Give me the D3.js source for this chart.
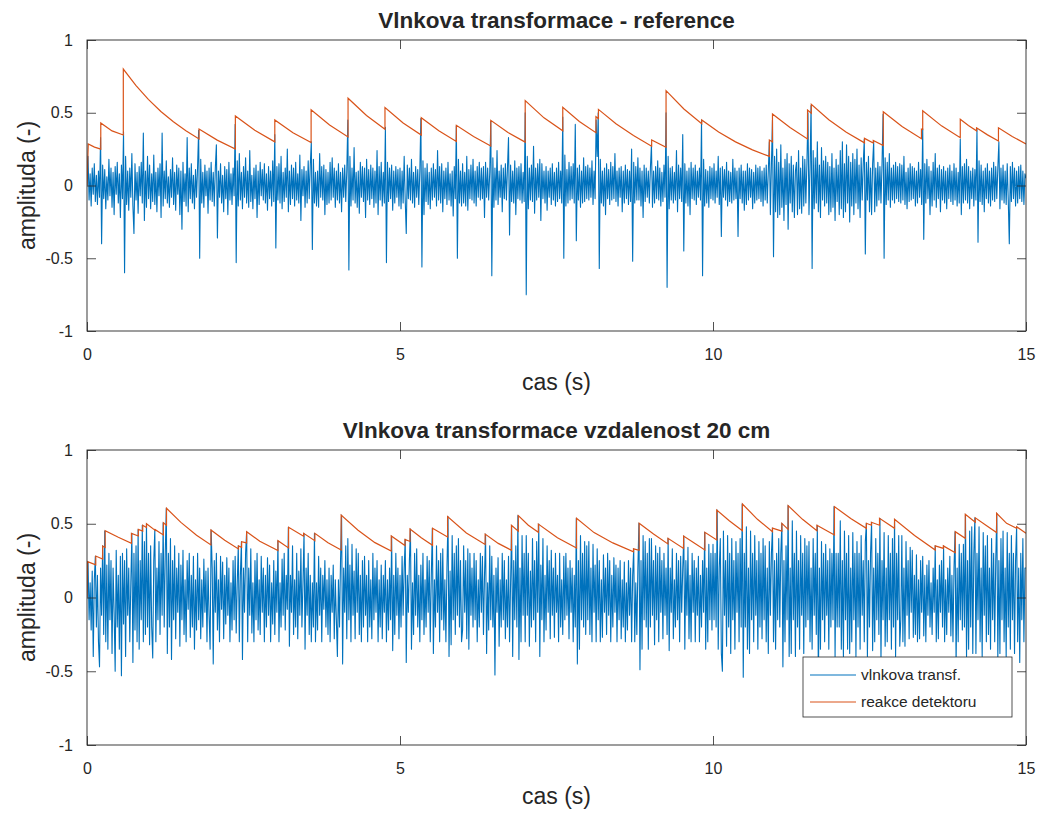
<!DOCTYPE html>
<html><head><meta charset="utf-8">
<script src="https://cdn.jsdelivr.net/npm/d3@7"></script>
<style>
body{margin:0;background:#fff}
svg{display:block}
text{font-family:"Liberation Sans",Arial,Helvetica,sans-serif;fill:#262626}
</style>
</head><body>
<svg id="c" width="1041" height="814"></svg>
<script>
const xTicks=[0,5,10,15];
const yTicks=[-1,-0.5,0,0.5,1];
const titles=["Vlnkova transformace - reference","Vlnkova transformace vzdalenost 20 cm"];
const xLabel="cas (s)";
const yLabel="amplituda (-)";
const legendLabels=["vlnkova transf.","reakce detektoru"];
const sampleRate=60; // samples per second (t = index / sampleRate)

const waveTop=[
0,.2,-.1,.08,-.14,.12,-.06,.15,-.11,.07, -.13,.1,-.08,.33,-.40,.14,-.09,.11,-.16,.06, -.1,.18,-.07,.12,-.15,.09,-.2,.13,-.06,.16, -.12,.08,-.22,.14,-.09,.37,-.60,.2,-.13,.1, -.17,.12,-.08,.22,-.14,-.33,.15,-.1,.09,-.19, .13,-.07,.16,-.12,.36,-.24,.1,-.15,.2,-.09,
.14,-.16,.08,-.11,.21,-.13,.09,-.18,.12,-.07, .15,-.22,.36,-.14,.1,-.09,.17,-.12,.06,-.15, .11,-.08,.19,-.13,.09,-.17,.14,-.06,.12,-.2, .1,-.3,.16,-.11,.08,-.14,.33,-.18,.12,-.09, .15,-.12,.07,-.16,.11,-.08,.13,.38,-.50,.18, -.12,.09,-.15,.14,-.07,.1,-.19,.12,-.1,.16,
-.11,.09,-.14,.12,.28,-.36,.1,-.08,.15,-.12, .07,-.18,.13,-.09,.11,-.2,.16,-.1,.08,-.13, .12,-.07,.42,-.53,.17,-.14,.22,-.1,.09,-.16, .13,-.08,.19,-.12,.1,-.15,.24,-.11,.07,-.16, .12,-.09,.14,-.22,.1,-.13,.16,-.07,.11,-.1, .15,-.12,.08,-.17,.13,-.09,.1,-.14,.17,-.11,
.35,-.43,.13,-.1,.15,-.12,.2,-.16,.09,-.11, .12,-.08,.25,-.18,.1,-.13,.14,-.09,.12,-.14, .16,-.1,.08,-.12,.21,-.24,.11,-.07,.13,-.15, .1,-.12,.17,-.09,.14,.30,-.44,.18,-.12,.09, -.14,.1,-.15,.22,-.08,.13,-.1,.14,-.2,.11, -.13,.09,-.12,.16,-.1,.19,-.08,.12,-.15,.1,
-.1,.15,-.12,.09,-.18,.12,-.08,.14,-.11,.1, .45,-.58,.2,-.14,.12,-.1,.26,-.12,.09,-.15, .1,-.19,.16,-.08,.13,-.11,.12,-.22,.18,-.1, .11,-.13,.14,-.09,.12,-.15,.1,-.12,.24,-.2, .13,-.1,.16,-.14,.09,-.12,.40,-.53,.16,-.11, .12,-.09,.14,-.17,.1,-.12,.13,-.08,.11,-.14,
.12,-.16,.1,-.12,.2,-.1,-.33,.14,-.09,.12, -.1,.18,-.12,.09,-.15,.13,-.08,.11,-.13,.1, .46,-.56,.17,-.2,.12,-.11,.15,-.13,.09,-.16, .12,-.1,.15,-.08,.11,-.14,.24,-.1,.13,-.12, .15,-.18,.1,-.09,.12,-.13,.16,-.1,.08,-.14, .1,-.21,.13,-.09,.41,-.50,.18,-.12,.1,-.14,
.15,-.12,.09,-.14,.2,-.17,.11,-.09,.14,-.1, .18,-.12,.1,-.14,.13,-.08,.16,-.1,.12,-.09, .13,-.22,.16,-.08,.12,-.1,.09,.44,-.62,.19, -.15,.12,-.1,.24,-.13,.1,-.08,.14,-.18,.12, -.09,.15,-.1,.12,.33,-.34,.14,-.11,.1,-.12, .17,-.2,.12,-.09,.13,-.1,.15,-.12,.09,-.11,
.50,-.75,.2,-.16,.12,-.1,.14,-.11,.27,-.19, .12,-.1,.15,-.08,.18,-.24,.15,-.09,.1,-.12, .13,-.17,.1,-.08,.12,-.13,.15,-.1,.09,-.14, .12,-.11,.16,-.09,.1,-.12,.47,-.50,.21,-.14, .11,-.12,.16,-.1,.13,-.09,.15,-.12,.42,-.38, .12,-.1,.14,-.15,.1,-.12,.19,-.11,.13,-.09,
.14,-.1,.12,-.08,.17,-.13,.1,-.09,.45,.2, .50,-.57,.18,-.12,.1,-.14,.12,-.2,.15,-.09, .11,-.13,.16,-.1,.13,-.09,.22,-.11,.1,-.14, .12,-.08,.13,-.18,.1,-.12,.14,-.09,.11,-.13, .1,-.11,.25,-.52,.16,-.12,.13,-.1,.19,-.1, .12,-.14,.1,-.22,.14,-.11,.12,-.08,.1,-.12,
.12,.28,-.15,.1,-.12,.13,-.09,.17,-.1,.12, -.14,.09,-.11,.14,-.08,.50,-.70,.2,-.16,.12, -.1,.13,-.12,.09,-.1,.24,-.18,.14,-.09,.12, -.11,.35,-.45,.15,-.12,.1,-.14,.12,-.2,.16, -.09,.12,-.1,.14,-.13,.1,-.08,.12,-.1,.45, -.62,.18,-.14,.11,-.12,.1,-.15,.13,-.09,.12,
-.1,.15,-.12,.1,-.08,.2,-.13,.12,-.35,.13, -.08,.11,-.1,.16,-.14,.1,-.11,.09,-.12,.18, -.1,.12,-.09,.1,-.35,.12,-.09,.14,-.12,.1, -.17,.1,-.13,.15,-.1,.12,-.08,.11,-.16,.09, -.12,.14,-.1,.12,-.09,.13,-.11,.1,-.14,.12, -.1,.14,-.12,.1,.30,-.2,.15,.45,-.49,.2,
-.18,.25,-.22,.16,-.2,.28,-.15,.12,-.24,.18, -.13,.22,-.3,.15,-.12,.2,-.18,.14,-.22,.1, .16,-.2,.24,-.16,.12,-.19,.2,-.14,.18,-.12, .15,.50,-.2,.12,.55,-.57,.24,-.16,.19,-.12, .3,-.18,.14,-.22,.26,-.1,.17,-.14,.2,-.12, .16,-.2,.13,-.18,.22,-.15,.12,-.24,.18,-.11,
.14,-.2,.24,-.16,.3,-.22,.15,-.18,.28,-.12, .2,-.25,.16,-.14,.22,-.2,.18,-.12,.25,-.16, .14,-.22,.19,-.1,.15,.32,-.47,.16,-.1,.2, -.18,.12,-.2,.15,.30,-.18,.12,-.14,.16,-.1, .13,-.12,.15,.49,-.50,.19,-.13,.16,-.1,.22, -.15,.12,-.1,.14,-.12,.16,-.09,.13,-.11,.15,
-.12,.14,-.1,.2,-.13,.09,-.16,.12,-.11,.15, -.1,.13,-.09,.12,-.14,.1,-.12,.16,-.08,.11, -.13,.39,-.37,.15,-.12,.18,-.09,.13,-.2,.1, -.14,.16,-.1,.22,-.15,.12,-.09,.14,-.18,.11, -.1,.13,-.12,.1,-.16,.12,-.09,.14,-.11,.1, -.13,.15,-.1,.12,-.14,.09,-.12,.32,-.2,.13,
-.12,.15,-.1,.18,-.12,.13,-.16,.1,-.09,.12, -.14,.11,-.1,.39,-.39,.17,-.11,.14,-.13,.1, -.18,.12,-.09,.15,-.12,.1,-.14,.12,-.1,.16, -.11,.13,-.09,.12,.30,-.16,.12,-.1,.14,-.12, .1,-.13,.15,-.1,-.40,.13,-.11,.16,-.09,.12, -.14,.1,-.12,.13,-.09,.14,-.11,.1,-.13,.08,
.05
];

const waveBottom=[
0,.24,-.15,.1,-.22,.18,-.40,.12,.28,-.2, .15,-.3,-.47,.2,-.12,.35,-.25,.45,-.3,.22, -.35,.3,-.15,.25,-.38,.2,-.1,-.5,.32,-.2, .15,-.35,.28,-.53,.3,-.18,.25,-.4,.33,-.12, .2,-.3,.1,.435,-.44,.3,-.22,.35,-.3,.46, -.35,.25,-.15,.49,-.3,.38,-.25,.50,-.2,.3,
-.32,.35,-.2,-.41,.25,.46,-.3,.2,-.15,.38, -.25,.3,-.12,.507,-.2,.3,.605,-.38,.3,-.2, .4,-.42,.25,-.15,.35,-.28,.2,-.1,.3,-.33, .22,-.15,.32,-.25,.12,-.3,.25,-.08,.3,-.27, .15,-.2,.28,-.35,.12,-.22,.3,-.15,.2,-.28, .12,-.2,.26,-.1,.18,-.3,.2,-.12,-.35,.458,
.2,-.45,.25,-.1,.3,-.22,.12,-.3,.28,-.08, .24,-.28,.15,-.18,.27,-.12,.2,-.3,.1,-.22, .25,-.15,.28,-.24,.1,.35,-.3,.15,.378,-.42, .2,-.1,.3,.446,-.3,.2,-.12,.33,-.24,.1, -.3,.25,-.15,.3,-.22,.12,-.25,.28,-.1,.2, -.3,.15,-.2,.27,-.12,.22,-.3,.1,-.18,.25,
-.25,.18,-.1,.385,-.3,.1,-.2,.26,-.12,.3, -.22,.15,-.08,.476,-.33,.15,-.1,.35,-.25,.12, -.2,.3,-.28,.18,-.12,.33,-.2,.1,.435,-.35, .2,-.12,.3,-.25,.15,-.3,.1,-.2,.435,-.3, .1,-.22,.28,-.12,.2,-.3,.15,-.08,.25,-.2, .12,-.25,.2,-.3,.15,-.1,.22,-.28,.12,-.15,
-.40,.12,-.2,.25,.559,-.45,.2,-.1,.35,-.28, .4,-.15,.22,-.3,.36,-.12,.18,-.28,.33,-.1, .3,-.25,.15,-.3,.25,-.2,.28,-.12,.15,-.3, .25,-.2,.12,-.28,.3,-.15,.2,-.1,.25,-.3, .12,-.2,.22,-.28,.15,-.1,.25,-.3,.12,-.22, .2,-.15,.417,-.36,.15,-.25,.3,-.12,.2,-.28,
.15,-.2,.28,-.12,.2,.394,-.44,.15,-.1,.25, .464,-.35,.1,-.25,.3,-.12,.33,-.2,.15,-.3, .22,-.15,.3,-.25,.12,-.2,.28,-.1,.25,-.3, .15,.469,-.38,.12,-.2,.35,-.1,.25,-.3,.3, -.15,.33,-.22,.12,-.3,.2,.548,-.4,.18,-.32, .42,-.15,.3,-.25,.35,-.12,.4,-.2,.25,-.3,
-.22,.35,-.1,.25,-.28,.33,-.35,.3,-.12,.2, -.2,.3,-.15,.25,-.3,.12,-.2,.3,-.1,.28, -.25,.15,.43,-.38,.1,-.22,.35,-.15,.28,-.2, .15,-.525,.2,-.1,.27,-.33,.12,-.2,.3,-.15, .25,-.28,.12,-.2,.28,-.3,.1,.49,-.4,.25, -.15,.35,-.2,.555,-.42,.2,-.3,.42,-.12,.3,
-.3,.42,-.12,.3,-.33,.18,-.2,.4,-.15,.25, -.3,.38,-.1,.498,-.4,.22,-.15,.4,-.3,.15, -.22,.35,-.1,.25,-.28,.32,-.12,.2,-.27,.3, -.1,.15,-.3,.3,-.2,.12,-.25,.28,-.15,.3, -.12,.2,-.28,.25,-.1,.2,-.3,.15,-.2,.537, -.45,.25,-.35,.42,-.15,.3,-.2,.38,-.25,.35,
-.15,.38,-.25,.2,-.3,.36,-.1,.22,-.3,.33, -.15,.25,-.3,.12,-.27,.29,-.1,.2,-.25,.3, -.12,.25,-.3,.15,-.2,.27,-.1,.22,-.3,.2, -.15,.25,-.28,.12,-.2,.24,-.3,.1,-.22,.25, -.12,.2,-.3,.15,.33,-.3,.1,-.25,.2,.503, -.49,.25,-.35,.42,-.15,.38,-.2,.3,-.35,.4,
-.2,.4,-.12,.25,-.32,.35,-.15,.3,-.3,.34, -.1,.25,-.28,.3,-.12,.2,-.25,.401,-.36,.2, -.1,.33,-.28,.12,-.2,.3,-.15,.25,-.3,.28, -.1,.2,.417,-.35,.25,-.12,.34,-.28,.15,-.3, .3,-.1,.25,-.3,.2,-.12,.28,-.3,.15,-.2, .25,-.1,.442,-.35,.2,-.3,.36,-.15,.3,-.22,
.36,-.15,.3,-.2,.593,-.35,.2,.4,-.38,-.5, .45,-.12,.25,-.33,.42,-.2,.3,-.38,.4,-.15, .25,-.35,.38,-.1,.3,-.3,.4,-.2,.634,-.54, .3,-.2,.48,-.35,.2,-.38,.45,-.15,.3,-.3, .42,-.12,.25,-.35,.38,-.2,.3,-.28,.4,-.15, .35,-.3,.2,-.38,.38,-.12,.3,.47,-.3,.25,
-.35,.3,-.15,.4,-.2,.3,.503,-.47,.25,-.3, .35,-.15,.623,-.4,.2,-.38,.52,-.15,.3,-.4, .45,-.2,.25,-.35,.42,-.12,.3,-.38,.4,-.2, .35,-.15,.38,-.3,.2,-.35,.4,-.12,.3,-.25, .49,-.56,.2,-.35,.38,-.15,.3,-.3,.36,-.12, .25,-.35,.33,-.2,.3,-.15,.616,-.4,.3,-.2,
.3,-.2,.52,-.35,.25,-.4,.45,-.15,.3,-.35, .42,-.38,.2,-.3,.44,-.15,.3,-.4,.38,-.2, .3,-.35,.42,-.12,.25,-.3,.38,.503,-.4,.25, -.2,.3,.51,-.36,.2,-.3,.4,-.15,.3,-.25, .537,-.42,.25,-.15,.44,-.33,.2,-.3,.42,-.15, .3,-.35,.4,-.2,.53,-.4,.3,-.15,.42,-.33,
-.15,.42,-.3,.2,-.33,.38,-.12,.25,-.28,.34, -.1,.32,-.27,.15,-.25,.29,-.3,.12,-.28,.25, -.1,.28,-.26,.15,-.3,.22,-.12,.25,-.2,.1, -.25,.2,-.1,.35,-.3,.12,-.28,.22,-.1,.25, -.2,.35,-.3,.12,-.25,.2,-.1,.28,-.26,.15, -.3,.2,.446,-.46,.2,-.3,.36,-.15,.3,-.22,
.36,-.2,.564,-.4,.25,-.35,.45,-.2,.48,-.38, .3,.54,-.38,.3,-.15,.48,-.3,.2,-.4,.44, -.12,.35,-.3,.42,-.25,.2,-.35,.4,-.15,.3, -.3,.25,.571,-.42,.25,-.38,.4,-.15,.45,-.3, .2,-.4,.44,-.2,.3,-.35,.42,-.15,.3,-.38, .25,.48,-.3,.2,-.44,.3,-.15,.4,-.3,.2,
.2
];

// detector reaction: [time (s), value] vertices
const detTop=[
[0,0],[0.02,0.285],[0.12,0.264],[0.22,0.25],
[0.22,0.43],[0.40,0.375],[0.58,0.347],
[0.58,0.80],[0.78,0.688],[0.98,0.592],[1.18,0.509],[1.38,0.438],[1.58,0.377],[1.79,0.32],
[1.79,0.388],[2.08,0.312],[2.37,0.251],
[2.37,0.478],[2.68,0.379],[3.00,0.30],
[3.00,0.45],[3.29,0.362],[3.58,0.295],
[3.58,0.52],[3.875,0.416],[4.17,0.334],
[4.17,0.60],[4.465,0.481],[4.76,0.387],
[4.76,0.535],[5.05,0.43],[5.34,0.347],
[5.34,0.466],[5.62,0.377],[5.90,0.303],
[5.90,0.414],[6.175,0.337],[6.45,0.272],
[6.45,0.448],[6.725,0.364],[7.00,0.298],
[7.00,0.583],[7.30,0.465],[7.60,0.376],
[7.60,0.537],[7.865,0.44],[8.13,0.363],
[8.13,0.473],[8.17,0.46],
[8.17,0.523],[8.45,0.424],[8.73,0.343],[9.02,0.27],
[9.02,0.313],[9.25,0.263],
[9.25,0.652],[9.535,0.526],[9.82,0.424],
[9.82,0.45],[10.09,0.367],[10.36,0.30],[10.63,0.245],[10.90,0.20],
[10.90,0.313],[10.95,0.30],
[10.95,0.491],[11.23,0.398],[11.51,0.32],
[11.51,0.519],[11.57,0.497],
[11.57,0.558],[11.85,0.452],[12.13,0.366],[12.42,0.293],
[12.42,0.324],[12.56,0.292],
[12.56,0.31],[12.72,0.275],
[12.72,0.507],[13.02,0.405],[13.33,0.322],
[13.33,0.388],[13.35,0.385],
[13.35,0.514],[13.65,0.41],[13.95,0.328],
[13.95,0.455],[14.08,0.412],[14.21,0.376],
[14.21,0.397],[14.385,0.348],[14.56,0.306],
[14.56,0.397],[14.78,0.337],[15.00,0.285]
];

const detBottom=[
[0,0],[0.01,0.243],[0.14,0.222],
[0.14,0.281],[0.25,0.261],
[0.25,0.349],[0.29,0.339],
[0.29,0.453],[0.50,0.408],[0.71,0.367],
[0.71,0.435],[0.82,0.417],
[0.82,0.462],[0.89,0.45],
[0.89,0.49],[0.95,0.475],
[0.95,0.50],[1.09,0.455],
[1.09,0.46],[1.22,0.424],
[1.22,0.507],[1.27,0.49],
[1.27,0.605],[1.50,0.509],[1.75,0.422],[1.98,0.356],
[1.98,0.458],[2.20,0.388],[2.42,0.329],
[2.42,0.349],[2.47,0.34],
[2.47,0.378],[2.55,0.37],
[2.55,0.446],[2.76,0.381],[3.05,0.318],
[3.05,0.385],[3.22,0.336],
[3.22,0.476],[3.46,0.415],
[3.46,0.435],[3.64,0.385],
[3.64,0.435],[3.85,0.371],[4.06,0.322],
[4.06,0.559],[4.33,0.456],[4.60,0.372],[4.86,0.315],
[4.86,0.417],[5.08,0.352],
[5.08,0.394],[5.16,0.38],
[5.16,0.464],[5.34,0.405],[5.52,0.354],
[5.52,0.469],[5.76,0.41],
[5.76,0.548],[6.06,0.437],[6.36,0.36],
[6.36,0.43],[6.57,0.367],[6.78,0.32],
[6.78,0.49],[6.89,0.45],
[6.89,0.555],[7.05,0.49],[7.21,0.442],
[7.21,0.498],[7.515,0.405],[7.82,0.335],
[7.82,0.537],[8.10,0.44],[8.40,0.37],[8.73,0.31],
[8.73,0.33],[8.82,0.32],
[8.82,0.503],[9.05,0.43],[9.28,0.363],
[9.28,0.401],[9.53,0.333],
[9.53,0.417],[9.70,0.37],[9.87,0.322],
[9.87,0.442],[10.06,0.39],
[10.06,0.593],[10.26,0.52],[10.47,0.453],
[10.47,0.634],[10.71,0.53],[10.95,0.446],
[10.95,0.47],[11.10,0.45],
[11.10,0.503],[11.20,0.462],
[11.20,0.623],[11.43,0.53],[11.66,0.453],
[11.66,0.49],[11.94,0.424],
[11.94,0.616],[12.20,0.535],[12.45,0.469],
[12.45,0.503],[12.53,0.49],
[12.53,0.51],[12.66,0.49],
[12.66,0.537],[12.90,0.469],
[12.90,0.53],[13.22,0.42],[13.55,0.322],
[13.55,0.35],[13.68,0.333],
[13.68,0.35],[13.87,0.304],
[13.87,0.446],[14.03,0.401],
[14.03,0.564],[14.19,0.51],
[14.19,0.54],[14.36,0.49],[14.53,0.44],
[14.53,0.571],[14.69,0.503],[14.85,0.47],
[14.85,0.48],[15.00,0.435]
];

const blue="#0072BD", orange="#D95319", axisColor="#262626";
const svg=d3.select("#c");
const left=87, right=1026;
const panels=[
  {top:40,bottom:331,title:titles[0],wave:waveTop,det:detTop,legend:false},
  {top:450,bottom:745,title:titles[1],wave:waveBottom,det:detBottom,legend:true}
];
const fmt=d=>String(d);

panels.forEach((p,pi)=>{
  const x=d3.scaleLinear().domain([0,15]).range([left,right]);
  const y=d3.scaleLinear().domain([-1,1]).range([p.bottom,p.top]);
  const g=svg.append("g");
  const clipId="clip"+pi;
  g.append("clipPath").attr("id",clipId).append("rect")
    .attr("x",left).attr("y",p.top).attr("width",right-left).attr("height",p.bottom-p.top);

  const plot=g.append("g").attr("clip-path",`url(#${clipId})`);
  const waveLine=d3.line().x((d,i)=>x(i/sampleRate)).y(d=>y(d));
  plot.append("path").datum(p.wave).attr("d",waveLine)
    .attr("fill","none").attr("stroke",blue).attr("stroke-width",1.1).attr("stroke-linejoin","round");
  const detLine=d3.line().x(d=>x(d[0])).y(d=>y(d[1]));
  plot.append("path").datum(p.det).attr("d",detLine)
    .attr("fill","none").attr("stroke",orange).attr("stroke-width",1.2);

  const tl=9;
  const axB=d3.axisBottom(x).tickValues(xTicks).tickFormat(fmt).tickSizeInner(-tl).tickSizeOuter(0).tickPadding(18);
  const axT=d3.axisTop(x).tickValues(xTicks).tickFormat("").tickSizeInner(-tl).tickSizeOuter(0);
  const axL=d3.axisLeft(y).tickValues(yTicks).tickFormat(fmt).tickSizeInner(-tl).tickSizeOuter(0).tickPadding(14);
  const axR=d3.axisRight(y).tickValues(yTicks).tickFormat("").tickSizeInner(-tl).tickSizeOuter(0);
  const style=sel=>{sel.select(".domain").remove();sel.selectAll("line").attr("stroke",axisColor).attr("stroke-width",0.8);
    sel.selectAll("text").attr("fill",axisColor).style("font-size","16px").style("font-family",'"Liberation Sans",Arial,sans-serif');};
  g.append("g").attr("transform",`translate(0,${p.bottom})`).call(axB).call(style);
  g.append("g").attr("transform",`translate(0,${p.top})`).call(axT).call(style);
  g.append("g").attr("transform",`translate(${left},0)`).call(axL).call(style);
  g.append("g").attr("transform",`translate(${right},0)`).call(axR).call(style);
  g.append("rect").attr("x",left).attr("y",p.top).attr("width",right-left).attr("height",p.bottom-p.top)
    .attr("fill","none").attr("stroke",axisColor).attr("stroke-width",0.9);

  g.append("text").attr("x",(left+right)/2).attr("y",p.top-12).attr("text-anchor","middle")
    .style("font-size","22.5px").style("font-weight","bold").text(p.title);
  g.append("text").attr("x",(left+right)/2).attr("y",p.bottom+59).attr("text-anchor","middle")
    .style("font-size","23px").text(xLabel);
  g.append("text").attr("transform",`translate(35,${(p.top+p.bottom)/2}) rotate(-90)`).attr("text-anchor","middle")
    .style("font-size","23px").text(yLabel);

  if(p.legend){
    const lg=g.append("g");
    lg.append("rect").attr("x",803).attr("y",657).attr("width",209).attr("height",60)
      .attr("fill","#fff").attr("stroke",axisColor).attr("stroke-width",0.8);
    [blue,orange].forEach((c,k)=>{
      const yy=675+k*27;
      lg.append("line").attr("x1",810).attr("x2",856).attr("y1",yy).attr("y2",yy).attr("stroke",c).attr("stroke-width",1.2);
      lg.append("text").attr("x",861).attr("y",yy).attr("dy","0.35em").style("font-size","15.5px").text(legendLabels[k]);
    });
  }
});
</script>
</body></html>
